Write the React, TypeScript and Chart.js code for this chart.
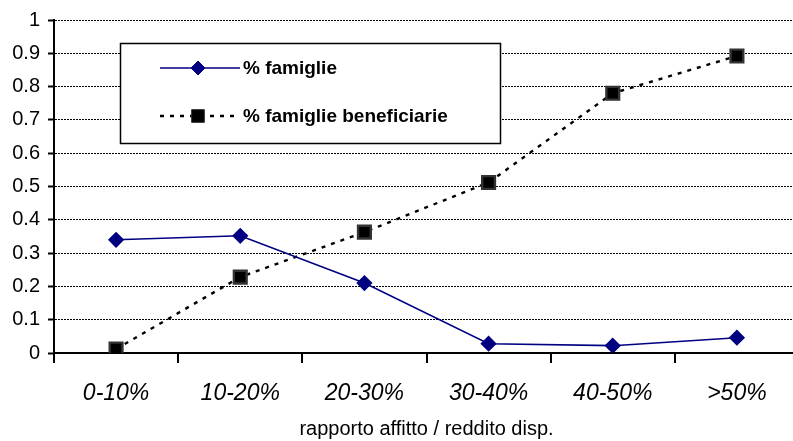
import React, { useEffect, useRef } from 'react';
import { Chart, registerables } from 'chart.js';

Chart.register(...registerables);

const categories = ['0-10%', '10-20%', '20-30%', '30-40%', '40-50%', '>50%'];
const famiglie = [0.34, 0.352, 0.21, 0.028, 0.022, 0.046];
const beneficiarie = [0.012, 0.228, 0.363, 0.512, 0.78, 0.892];
const seriesLabels = ['% famiglie', '% famiglie beneficiarie'];
const xTitle = 'rapporto affitto / reddito disp.';
const yMin = 0;
const yMax = 1;
const yStep = 0.1;

const FONT = '"Liberation Sans", Arial, Helvetica, sans-serif';
const NAVY = '#000080';

const legendPlugin = {
  id: 'customLegend',
  afterDraw(chart: any) {
    const ctx = chart.ctx as CanvasRenderingContext2D;
    const bx = 120, by = 43, bw = 380, bh = 100;
    ctx.save();
    ctx.fillStyle = '#ffffff';
    ctx.fillRect(bx, by, bw, bh);
    ctx.lineWidth = 1.5;
    ctx.strokeStyle = '#000';
    ctx.strokeRect(bx + 0.5, by + 0.5, bw, bh);
    const rows = [68, 116];
    chart.data.datasets.forEach((ds: any, i: number) => {
      const y = rows[i];
      ctx.save();
      ctx.strokeStyle = ds.borderColor;
      ctx.lineWidth = ds.borderWidth;
      ctx.setLineDash(ds.borderDash || []);
      ctx.beginPath();
      ctx.moveTo(160, y);
      ctx.lineTo(240, y);
      ctx.stroke();
      ctx.setLineDash([]);
      const px = 198;
      ctx.fillStyle = ds.pointBackgroundColor;
      ctx.strokeStyle = ds.pointBorderColor;
      ctx.lineWidth = 1;
      ctx.beginPath();
      if (ds.pointStyle === 'rectRot') {
        const r = ds.pointRadius;
        ctx.moveTo(px, y - r);
        ctx.lineTo(px + r, y);
        ctx.lineTo(px, y + r);
        ctx.lineTo(px - r, y);
        ctx.closePath();
      } else {
        const s = ds.pointRadius * Math.SQRT1_2;
        ctx.rect(px - s, y - s, 2 * s, 2 * s);
      }
      ctx.fill();
      ctx.stroke();
      ctx.restore();
      ctx.fillStyle = '#000';
      ctx.font = `bold 19px ${FONT}`;
      ctx.textBaseline = 'middle';
      ctx.textAlign = 'left';
      ctx.fillText(ds.label, 243, y + 1);
    });
    ctx.restore();
  },
};

export default function App() {
  const ref = useRef<HTMLCanvasElement | null>(null);
  useEffect(() => {
    if (!ref.current) return;
    const chart = new Chart(ref.current, {
      type: 'line',
      data: {
        labels: categories,
        datasets: [
          {
            label: seriesLabels[0],
            data: famiglie,
            borderColor: NAVY,
            backgroundColor: NAVY,
            borderWidth: 1.6,
            pointStyle: 'rectRot',
            pointRadius: 7,
            pointBackgroundColor: NAVY,
            pointBorderColor: NAVY,
            tension: 0,
          },
          {
            label: seriesLabels[1],
            data: beneficiarie,
            borderColor: '#000',
            backgroundColor: '#000',
            borderWidth: 2.4,
            borderDash: [4, 6],
            pointStyle: 'rect',
            pointRadius: 9,
            pointBackgroundColor: '#000',
            pointBorderColor: '#333',
            tension: 0,
          },
        ] as any,
      },
      options: {
        responsive: false,
        animation: false,
        layout: { padding: { left: 0, top: 20, right: 12, bottom: 0 } },
        plugins: {
          legend: { display: false },
          tooltip: { enabled: false },
        },
        scales: {
          x: {
            offset: true,
            grid: {
              display: true,
              drawOnChartArea: false,
              offset: true,
              color: '#000',
              lineWidth: 2,
              tickLength: 10,
            },
            border: { display: true, color: '#000', width: 2 },
            ticks: {
              color: '#000',
              padding: 17,
              font: { family: FONT, size: 23, style: 'italic' },
              maxRotation: 0,
            },
            title: {
              display: true,
              text: xTitle,
              color: '#000',
              font: { family: FONT, size: 20 },
              padding: { top: 0, bottom: 0 },
            },
            afterFit: (scale: any) => {
              scale.height = 88;
            },
          },
          y: {
            min: yMin,
            max: yMax,
            grid: {
              color: '#000',
              lineWidth: 1,
              tickLength: 6,
              tickColor: '#000',
              tickWidth: 2,
              tickBorderDash: [],
            } as any,
            border: { display: true, color: '#000', width: 2, dash: [2, 1] },
            ticks: {
              stepSize: yStep,
              color: '#000',
              padding: 8,
              font: { family: FONT, size: 20 },
              callback: (v: any) => String(Number(Number(v).toFixed(1))),
            },
            afterFit: (scale: any) => {
              scale.width = 54;
            },
          },
        },
      },
      plugins: [legendPlugin],
    });
    return () => chart.destroy();
  }, []);
  return (
    <div
      style={{
        position: 'absolute',
        left: 0,
        top: 0,
        width: 793,
        height: 441,
        overflow: 'hidden',
        background: '#fff',
      }}
    >
      <canvas ref={ref} width={811} height={441} style={{ width: 811, height: 441 }} />
    </div>
  );
}
